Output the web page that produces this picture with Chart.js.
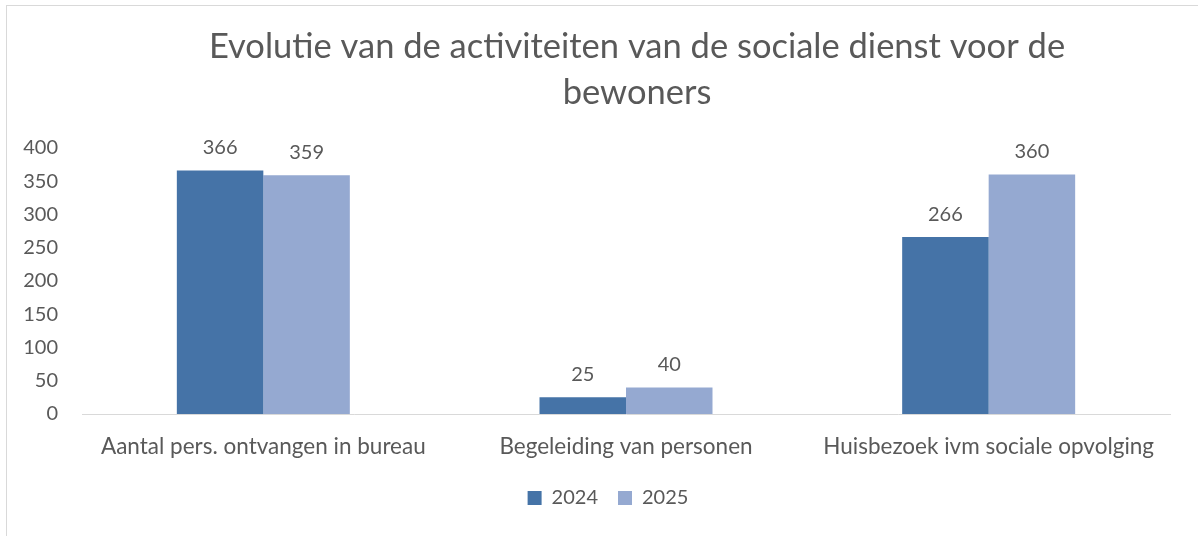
<!DOCTYPE html>
<html>
<head>
<meta charset="utf-8">
<script src="https://cdn.jsdelivr.net/npm/chart.js@4"></script>
<style>
  html, body { margin: 0; padding: 0; background: #fff; overflow: hidden; }
  #wrap { position: relative; width: 1198px; height: 536px; }
  #frame { position: absolute; left: 6px; top: 5px; width: 1200px; height: 540px; border: 1px solid #d9d9d9; box-sizing: border-box; }
  canvas { position: absolute; left: 0; top: 0; }
</style>
</head>
<body>
<div id="wrap">
  <div id="frame"></div>
  <canvas id="c" width="1198" height="536"></canvas>
</div>
<script>
const titleLines = ["Evolutie van de activiteiten van de sociale dienst voor de", "bewoners"];
const categories = ["Aantal pers. ontvangen in bureau", "Begeleiding van personen", "Huisbezoek ivm sociale opvolging"];
const seriesNames = ["2024", "2025"];
const values2024 = [366, 25, 266];
const values2025 = [359, 40, 360];
const yTicks = [0, 50, 100, 150, 200, 250, 300, 350, 400];

const FONT = "Lato, 'Open Sans', sans-serif";
const TEXT = "#595959";

const dataLabels = {
  id: "dataLabels",
  afterDatasetsDraw(chart) {
    const ctx = chart.ctx;
    ctx.save();
    ctx.font = "20px " + FONT;
    ctx.fillStyle = TEXT;
    ctx.textAlign = "center";
    ctx.textBaseline = "bottom";
    chart.data.datasets.forEach((ds, i) => {
      chart.getDatasetMeta(i).data.forEach((bar, j) => {
        ctx.fillText(String(ds.data[j]), bar.x, bar.y - 13);
      });
    });
    ctx.restore();
  }
};

const shiftBlocks = {
  id: "shiftBlocks",
  afterLayout(chart) {
    const t = chart.titleBlock;
    if (t) { t.left = 104; t.right = 1170; }
    const l = chart.legend;
    if (l) { l.left = l.left + 46; }
  }
};

new Chart(document.getElementById("c"), {
  type: "bar",
  data: {
    labels: categories,
    datasets: [
      { label: seriesNames[0], data: values2024, backgroundColor: "#4573A7" },
      { label: seriesNames[1], data: values2025, backgroundColor: "#95A9D1" }
    ]
  },
  options: {
    responsive: false,
    animation: false,
    devicePixelRatio: 1,
    layout: { padding: { left: 0, right: 28, top: 0, bottom: 18 } },
    datasets: { bar: { categoryPercentage: 0.477, barPercentage: 1.0 } },
    plugins: {
      title: {
        display: true,
        text: titleLines,
        color: TEXT,
        font: { family: FONT, size: 34.5, weight: "normal", lineHeight: 1.333 },
        padding: { top: 24, bottom: 32 }
      },
      legend: {
        position: "bottom",
        labels: {
          color: TEXT,
          font: { family: FONT, size: 20 },
          boxWidth: 14,
          boxHeight: 14,
          padding: 20
        }
      },
      tooltip: { enabled: false }
    },
    scales: {
      x: {
        grid: { display: false, drawTicks: false },
        border: { display: true, color: "#d9d9d9", width: 1 },
        ticks: { color: TEXT, font: { family: FONT, size: 22.5 }, padding: 19, maxRotation: 0 },
        afterFit(scale) { scale.height = 54; }
      },
      y: {
        min: 0,
        max: 400,
        afterBuildTicks(scale) { scale.ticks = yTicks.map(v => ({ value: v })); },
        grid: { display: false, drawTicks: false },
        border: { display: false },
        ticks: { color: TEXT, font: { family: FONT, size: 20 }, padding: 24 },
        afterFit(scale) { scale.width = 82; }
      }
    }
  },
  plugins: [dataLabels, shiftBlocks]
});
</script>
</body>
</html>
